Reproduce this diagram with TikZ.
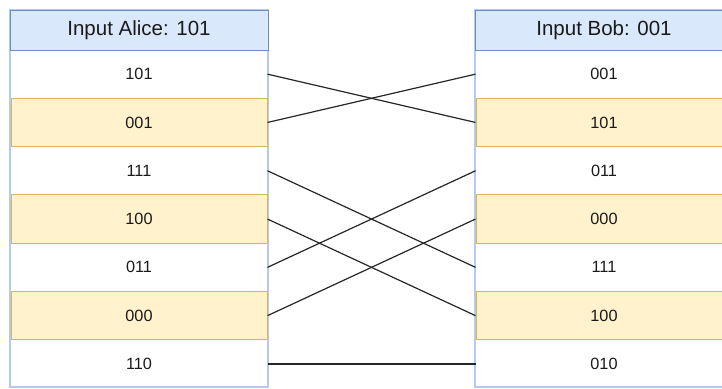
\documentclass[tikz,border=0pt]{standalone}
\usepackage{fontspec}
\setmainfont{Liberation Sans}
\definecolor{frameblue}{HTML}{B4CBEE}
\definecolor{headblue}{HTML}{6C8EBF}
\definecolor{headfill}{HTML}{DAE8FC}
\definecolor{rowborder}{HTML}{D6B656}
\definecolor{rowfill}{HTML}{FFF2CC}
\definecolor{txt}{HTML}{1A1A1A}
\definecolor{linkcol}{HTML}{262626}
\begin{document}
\begin{tikzpicture}[x=1pt,y=-1pt,
  frame/.style={draw=frameblue,line width=2pt},
  head/.style={draw=headblue,fill=headfill,line width=1pt,minimum width=258pt,minimum height=40pt,inner sep=0pt,text=txt,font=\fontsize{20.5}{24}\selectfont},
  cell/.style={minimum width=256pt,minimum height=48.3pt,inner sep=0pt,text=txt,line width=1pt,font=\fontsize{16.3}{19}\selectfont},
  hl/.style={cell,draw=rowborder,fill=rowfill},
  link/.style={draw=linkcol,line width=1.2pt}]
\useasboundingbox (0,0) rectangle (722,388);
% frames
\draw[frame] (10,10) rectangle (268,387);
\draw[frame] (475,10) rectangle (733,387);
% headers
\node[head] (LH) at (139,30) {Input Alice: 101};
\node[head] (RH) at (604,30) {Input Bob: 001};
% left column
\node[cell] (L1) at (139,74.15) {101};
\node[hl]   (L2) at (139,122.45) {001};
\node[cell] (L3) at (139,170.75) {111};
\node[hl]   (L4) at (139,219.05) {100};
\node[cell] (L5) at (139,267.35) {011};
\node[hl]   (L6) at (139,315.65) {000};
\node[cell] (L7) at (139,363.95) {110};
% right column
\node[cell] (R1) at (604,74.15) {001};
\node[hl]   (R2) at (604,122.45) {101};
\node[cell] (R3) at (604,170.75) {011};
\node[hl]   (R4) at (604,219.05) {000};
\node[cell] (R5) at (604,267.35) {111};
\node[hl]   (R6) at (604,315.65) {100};
\node[cell] (R7) at (604,363.95) {010};
% connectors
\draw[link] (L1.east) -- (R2.west);
\draw[link] (L2.east) -- (R1.west);
\draw[link] (L3.east) -- (R5.west);
\draw[link] (L4.east) -- (R6.west);
\draw[link] (L5.east) -- (R3.west);
\draw[link] (L6.east) -- (R4.west);
\draw[link] (L7.east) -- (R7.west);
\end{tikzpicture}
\end{document}
